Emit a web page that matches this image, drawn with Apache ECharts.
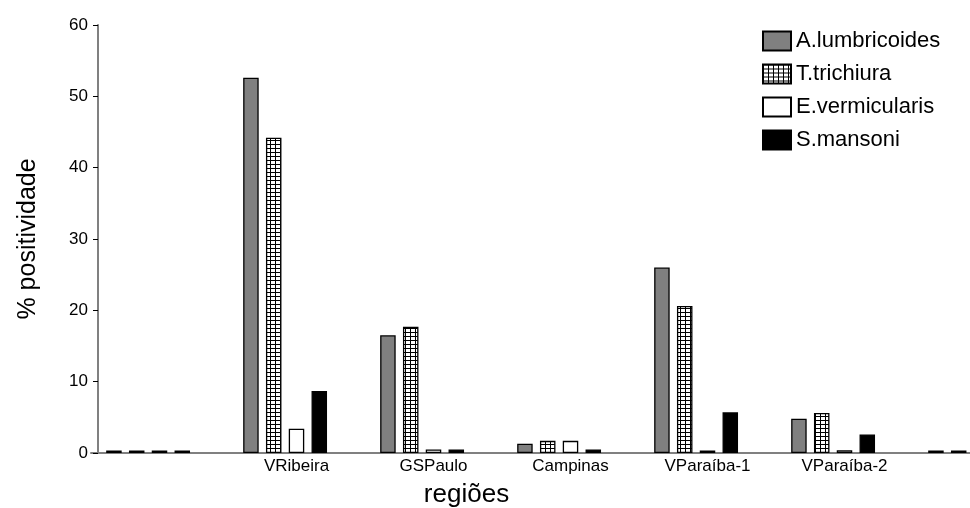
<!DOCTYPE html>
<html>
<head>
<meta charset="utf-8">
<script src="https://cdn.jsdelivr.net/npm/echarts@6/dist/echarts.min.js"></script>
<style>
html,body{margin:0;padding:0;background:#fff;}
#chart{width:970px;height:508px;}
</style>
</head>
<body>
<div id="chart"></div>
<script>
const categories = ['', 'VRibeira', 'GSPaulo', 'Campinas', 'VParaíba-1', 'VParaíba-2', ''];
const seriesNames = ['A.lumbricoides', 'T.trichiura', 'E.vermicularis', 'S.mansoni'];
const aLumbricoides = [0, 52.6, 16.5, 1.3, 26.0, 4.8];
const tTrichiura    = [0, 44.2, 17.7, 1.7, 20.6, 5.6];
const eVermicularis = [0, 3.4, 0.5, 1.7, 0.3, 0.4];
const sMansoni      = [0, 8.7, 0.5, 0.5, 5.7, 2.6];
// last (empty) category values
const lastCategory  = [0, 0, 0, 0];
const yTicks = [0, 10, 20, 30, 40, 50, 60];

const values = [aLumbricoides, tTrichiura, eVermicularis, sMansoni].map((arr, i) => arr.concat([lastCategory[i]]));

function gridPattern() {
  const c = document.createElement('canvas');
  c.width = 5; c.height = 4;
  const ctx = c.getContext('2d');
  ctx.fillStyle = '#ffffff';
  ctx.fillRect(0, 0, 5, 4);
  ctx.fillStyle = '#000000';
  ctx.fillRect(0, 0, 5, 1);
  ctx.fillRect(0, 0, 1, 4);
  return c;
}

const fills = ['#808080', { image: gridPattern(), repeat: 'repeat' }, '#ffffff', '#000000'];
const FONT = '"Liberation Sans", Arial, sans-serif';

const chart = echarts.init(document.getElementById('chart'), null, { renderer: 'canvas' });

const series = seriesNames.map((name, i) => ({
  name: name,
  type: 'bar',
  data: values[i],
  barWidth: 15.5,
  barGap: '47%',
  barMinHeight: 2.5,
  itemStyle: { color: fills[i], borderColor: '#000', borderWidth: 1.3 },
  emphasis: { disabled: true },
  animation: false
}));
// empty fifth slot in each group (as in the original layout)
series.push({
  name: 'spacer',
  type: 'bar',
  data: categories.map(() => '-'),
  barWidth: 15.5,
  barGap: '47%',
  itemStyle: { color: 'transparent' },
  silent: true,
  animation: false
});

chart.setOption({
  backgroundColor: '#ffffff',
  animation: false,
  textStyle: { fontFamily: FONT },
  grid: { left: 91, width: 959, top: 25, bottom: 55, containLabel: false, outerBoundsMode: 'none' },
  legend: {
    data: seriesNames,
    orient: 'vertical',
    left: 757,
    top: 25,
    itemWidth: 28,
    itemHeight: 19,
    itemGap: 11,
    icon: 'rect',
    textStyle: { fontFamily: FONT, fontSize: 22, color: '#000' },
    selectedMode: false
  },
  xAxis: {
    type: 'category',
    data: categories,
    name: 'regiões',
    nameLocation: 'middle',
    nameGap: 29,
    nameTextStyle: { fontFamily: FONT, fontSize: 26, color: '#000', padding: [0, 208, 0, 0] },
    axisLine: { show: true, lineStyle: { color: '#808080', width: 2 } },
    axisTick: { show: false },
    axisLabel: { fontFamily: FONT, fontSize: 17, color: '#000', margin: 5, interval: 0 },
    splitLine: { show: false }
  },
  yAxis: {
    type: 'value',
    min: 0,
    max: yTicks[yTicks.length - 1],
    interval: yTicks[1] - yTicks[0],
    offset: -7,
    name: '% positividade',
    nameLocation: 'middle',
    nameGap: 57,
    nameTextStyle: { fontFamily: FONT, fontSize: 25, color: '#000' },
    axisLine: { show: true, onZero: false, lineStyle: { color: '#808080', width: 2 } },
    axisTick: { show: true, length: 5, lineStyle: { color: '#000', width: 1 } },
    axisLabel: { fontFamily: FONT, fontSize: 17, color: '#000', margin: 10 },
    splitLine: { show: false }
  },
  series: series
});
</script>
</body>
</html>
